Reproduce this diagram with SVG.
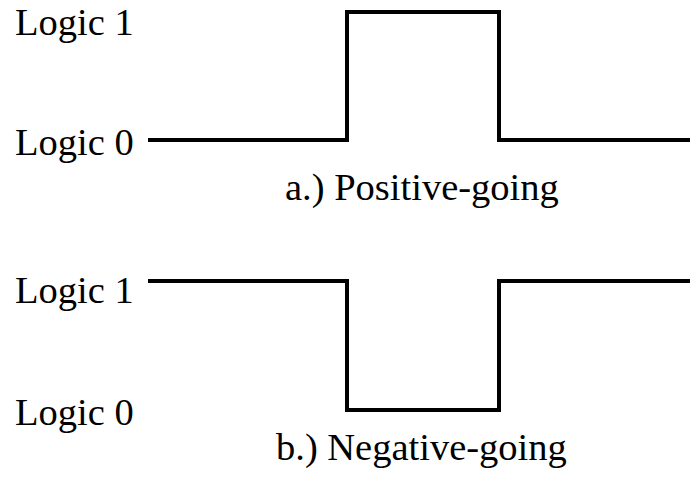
<svg xmlns="http://www.w3.org/2000/svg" width="690" height="478" viewBox="0 0 690 478">
<style>
text{font-family:"Liberation Serif","Times New Roman",serif;font-size:38.5px;fill:#000}
.w{fill:none;stroke:#000;stroke-width:4;stroke-linejoin:miter}
</style>
<rect width="690" height="478" fill="#fff"/>
<g id="label-a1"><text x="15" y="35">Logic 1</text></g>
<g id="label-a0"><text x="15" y="155">Logic 0</text></g>
<g id="caption-a"><text x="285" y="200">a.) Positive-going</text></g>
<g id="label-b1"><text x="15" y="303">Logic 1</text></g>
<g id="label-b0"><text x="15" y="425">Logic 0</text></g>
<g id="caption-b"><text x="276" y="460">b.) Negative-going</text></g>
<g id="connectors">
<polyline class="w" points="148,140 347,140 347,12 499,12 499,140 690,140"/>
<polyline class="w" points="148,281 347,281 347,410 499,410 499,281 690,281"/>
</g>
</svg>
